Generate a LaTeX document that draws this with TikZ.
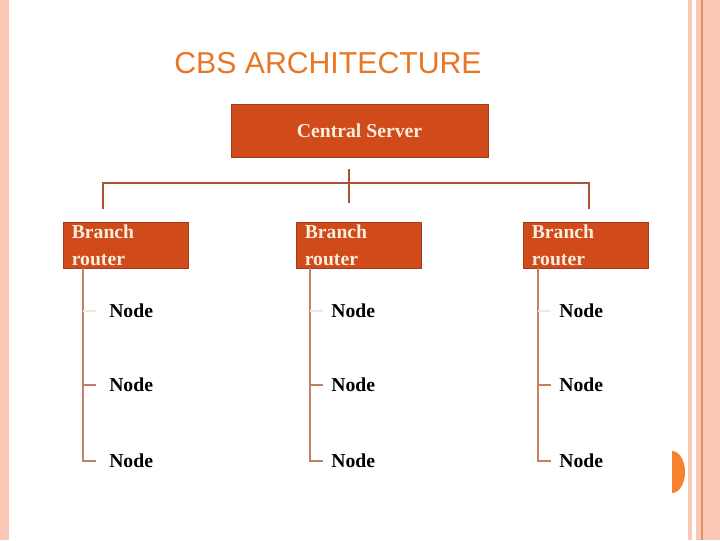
\documentclass[tikz,border=0pt]{standalone}
\usepackage{fontspec}
\setmainfont{Liberation Serif}
\newfontfamily\titlefont{Liberation Sans}
\usepackage{tikz}
\usetikzlibrary{positioning, calc}
\definecolor{boxfill}{RGB}{208,74,26}
\definecolor{boxline}{RGB}{165,58,28}
\definecolor{boxtext}{RGB}{251,238,222}
\definecolor{titleorange}{RGB}{232,118,35}
\definecolor{wirecol}{RGB}{170,82,50}
\definecolor{railcol}{RGB}{196,128,100}
\definecolor{stripe}{RGB}{249,200,180}
\definecolor{stripedark}{RGB}{226,146,100}
\definecolor{tabcol}{RGB}{246,130,48}
\tikzset{cbstree/.style={
    x=0.025cm, y=-0.025cm,
    serverbox/.style={rectangle, draw=boxline, fill=boxfill, minimum width=6.425cm, minimum height=1.325cm, text=boxtext, font=\fontsize{14}{17}\selectfont\bfseries},
    routerbox/.style={rectangle, draw=boxline, fill=boxfill, minimum width=3.125cm, minimum height=1.15cm, inner xsep=0.2cm, inner ysep=0pt, text width=2.7cm, align=left, text=boxtext, font=\fontsize{14}{18.5}\selectfont\bfseries},
    leaf/.style={inner sep=0pt, font=\fontsize{14}{17}\selectfont\bfseries},
    wire/.style={draw=wirecol, line width=0.9pt},
    rail/.style={draw=railcol, line width=0.9pt},
}}

\begin{document}
\begin{tikzpicture}[cbstree]
    \useasboundingbox (0,0) rectangle (720,540);
    % page border stripes
    \fill[stripe] (0,0) rectangle (9,540);
    \fill[stripe] (688,0) rectangle (692,540);
    \fill[stripe] (696,0) rectangle (720,540);
    \draw[stripedark, line width=0.8pt] (702,0) -- (702,540);
    \fill[tabcol] (672,451) arc[start angle=-90, end angle=90, x radius=13, y radius=21] -- cycle;

    \node[font=\titlefont\fontsize{21.5}{24}\selectfont, text=titleorange] (title) at (328,63) {CBS ARCHITECTURE};

    \node[serverbox] (server) at (359.5,130.5) {Central Server};

    % bus to the branch routers
    \coordinate (bustop) at (349,169);
    \coordinate (busend) at (349,203);
    \coordinate (busleft) at (103,183);
    \coordinate (busright) at (589,183);
    \coordinate (dropleft) at (103,209);
    \coordinate (dropright) at (589,209);
    \draw[wire] (bustop) -- (busend);
    \draw[wire] (dropleft) -- (busleft) -- (busright) -- (dropright);

    \foreach \i/\x/\r/\t in {1/63/20/26, 2/296/14/21, 3/523/15/21} {
        \node[routerbox, anchor=north west] (r\i) at (\x,222) {Branch\\router};
        \coordinate (rail\i) at (\x+\r,268);
        \node[leaf, anchor=west] (n\i1) at (\x+\r+\t,311) {Node};
        \node[leaf, anchor=west] (n\i2) at (\x+\r+\t,385) {Node};
        \node[leaf, anchor=west] (n\i3) at (\x+\r+\t,461) {Node};
        \draw[rail] (rail\i) |- ($(n\i3.west)+(-\t+13,0)$);
        \draw[railcol!20, line width=0.9pt] (rail\i |- n\i1.west) -- ($(n\i1.west)+(-\t+13,0)$);
        \draw[rail] (rail\i |- n\i2.west) -- ($(n\i2.west)+(-\t+13,0)$);
    }
\end{tikzpicture}
\end{document}
